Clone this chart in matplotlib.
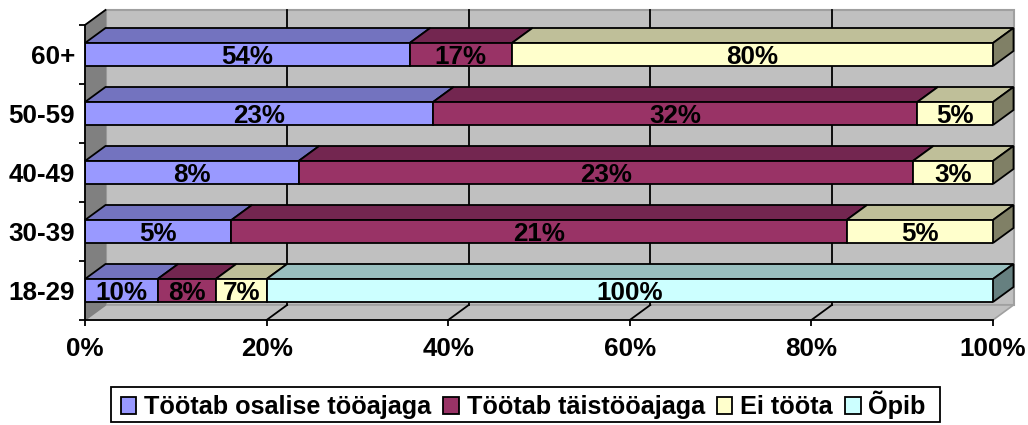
import numpy as np
import matplotlib
matplotlib.use('Agg')
import matplotlib.pyplot as plt
from matplotlib.patches import Polygon, Patch, Rectangle

groups = ['18-29', '30-39', '40-49', '50-59', '60+']
osaline = [10, 5, 8, 23, 54]
taisaeg = [8, 21, 23, 32, 17]
ei_toota = [7, 5, 3, 5, 80]
opib = [100, 0, 0, 0, 0]
series_names = ['Töötab osalise tööajaga', 'Töötab täistööajaga', 'Ei tööta', 'Õpib']
xtick_labels = ['0%', '20%', '40%', '60%', '80%', '100%']

front = ['#9999FF', '#993366', '#FFFFCC', '#CCFFFF']
top = ['#7373BF', '#732650', '#BFBF99', '#99BFBF']
side = ['#4D4D80', '#4D1A33', '#808066', '#668080']

plt.rcParams['font.family'] = ['Liberation Sans', 'DejaVu Sans']
plt.rcParams['font.weight'] = 'bold'

W, H = 1028, 425
fs = 18.7
fig = plt.figure(figsize=(W / 100, H / 100), dpi=100)
ax = fig.add_axes([85 / W, (H - 320) / H, 908 / W, 295 / H])
ax.set_xlim(0, 100)
ax.set_ylim(-0.5, 4.5)

# depth of the fake 3d box, in data units
dx = 100 * 20.5 / 908
dy = 15 / 59
bar_h = 23 / 59

# walls
ax.add_patch(Polygon([(dx, -0.5 + dy), (100 + dx, -0.5 + dy), (100 + dx, 4.5 + dy), (dx, 4.5 + dy)],
                     fc='#C0C0C0', ec='#A0A0A0', lw=1.5, clip_on=False, zorder=1))
ax.add_patch(Polygon([(0, -0.5), (100, -0.5), (100 + dx, -0.5 + dy), (dx, -0.5 + dy)],
                     fc='#C0C0C0', ec='#A0A0A0', lw=1.2, clip_on=False, zorder=1.1))
ax.add_patch(Polygon([(0, -0.5), (dx, -0.5 + dy), (dx, 4.5 + dy), (0, 4.5)],
                     fc='#808080', ec='#808080', lw=1, clip_on=False, zorder=1.2))
ax.plot([0, dx], [4.5, 4.5 + dy], color='black', lw=1.3, clip_on=False, zorder=1.3)

# gridlines on back wall and floor
for t in [20, 40, 60, 80]:
    ax.plot([t + dx, t + dx], [-0.5 + dy, 4.5 + dy], color='black', lw=1.3, clip_on=False, zorder=1.5)
    ax.plot([t, t + dx], [-0.5, -0.5 + dy], color='black', lw=1.3, clip_on=False, zorder=1.5)

data = np.array([osaline, taisaeg, ei_toota, opib], dtype=float)
shares = data / data.sum(axis=0) * 100
ypos = np.arange(len(groups))

# back rows first so the nearer ones overlap them
for i in ypos[::-1]:
    z = 10 - i
    left = 0
    last = 0
    for s in range(len(series_names)):
        w = shares[s][i]
        if w == 0:
            continue
        y0, y1 = i - bar_h / 2, i + bar_h / 2
        ax.add_patch(Polygon([(left, y1), (left + w, y1), (left + w + dx, y1 + dy), (left + dx, y1 + dy)],
                             fc=top[s], ec='black', lw=1.3, clip_on=False, zorder=z))
        ax.barh(i, w, left=left, height=bar_h, color=front[s], edgecolor='black', linewidth=1.3, zorder=z + 0.2)
        ax.text(left + w / 2, i - 0.05, '%d%%' % data[s][i], ha='center', va='center', fontsize=fs,
                fontweight='bold', color='black', zorder=20)
        left += w
        last = s
    ax.add_patch(Polygon([(100, i - bar_h / 2), (100 + dx, i - bar_h / 2 + dy), (100 + dx, i + bar_h / 2 + dy), (100, i + bar_h / 2)],
                         fc=side[last], ec='black', lw=1.3, clip_on=False, zorder=z + 0.1))

for sp in ['top', 'right']:
    ax.spines[sp].set_visible(False)
for sp in ['left', 'bottom']:
    ax.spines[sp].set_linewidth(1.3)
    ax.spines[sp].set_zorder(30)

ax.set_xticks(np.arange(0, 101, 20))
ax.set_xticklabels(xtick_labels, fontsize=fs, fontweight='bold')
ax.set_yticks(np.arange(-0.5, 5, 1))
ax.set_yticklabels([])
ax.set_yticks(ypos, minor=True)
ax.set_yticklabels(groups, minor=True, fontsize=fs, fontweight='bold')
ax.tick_params(axis='y', which='minor', length=0, pad=7)
ax.tick_params(axis='y', which='major', length=4, width=1.3)
ax.tick_params(axis='x', length=4, width=1.3, pad=8)

# legend frame is its own rectangle, the padding in the original is not even
fig.add_artist(Rectangle((111 / W, (H - 422) / H), 829 / W, 35 / H, transform=fig.transFigure,
                         fc='white', ec='black', lw=1.3))
handles = [Patch(fc=front[s], ec='black', lw=1.3) for s in range(4)]
leg = fig.legend(handles, series_names, ncol=4, loc='center', bbox_to_anchor=(523 / W, (H - 405) / H),
                 fontsize=18.2, frameon=False,
                 handlelength=0.63, handleheight=0.63, handletextpad=0.3, columnspacing=0.47,
                 borderpad=0, borderaxespad=0)

fig.savefig('out.png', dpi=100)
